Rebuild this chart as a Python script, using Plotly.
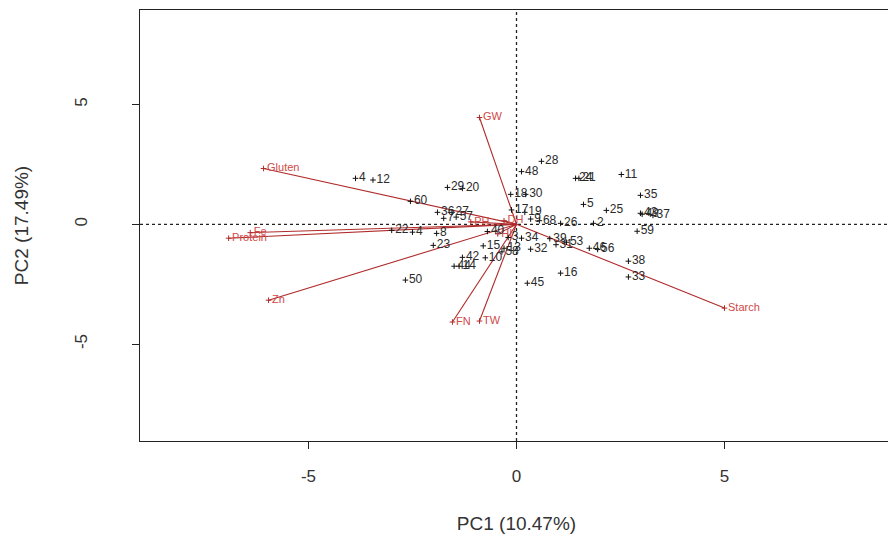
import plotly.graph_objects as go

# Genotype scores (PC1, PC2)
geno_labels = ["28", "48", "24", "21", "11", "35", "5", "25", "43", "49", "37", "59",
               "26", "2", "38", "33", "16", "45", "18", "30", "17", "19", "9", "68",
               "34", "32", "39", "31", "53", "46", "56", "3", "13", "58",
               "42", "44", "14", "50", "15", "4", "8", "23", "22", "4", "12",
               "29", "20", "60", "36", "27", "7", "57", "40", "10"]
geno_pc1 = [0.60, 0.12, 1.42, 1.50, 2.52, 2.98, 1.61, 2.16, 2.98, 3.02, 3.28, 2.90,
            1.06, 1.85, 2.69, 2.69, 1.06, 0.26, -0.14, 0.22, -0.12, 0.20, 0.34, 0.55,
            0.12, 0.34, 0.80, 0.95, 1.20, 1.75, 1.95, -0.20, -0.30, -0.35,
            -1.30, -1.50, -1.38, -2.67, -0.80, -2.50, -1.92, -2.00, -3.00, -3.87, -3.45,
            -1.66, -1.30, -2.55, -1.90, -1.55, -1.75, -1.45, -0.70, -0.75]
geno_pc2 = [2.63, 2.20, 1.92, 1.92, 2.08, 1.21, 0.83, 0.58, 0.46, 0.42, 0.37, -0.29,
            0.04, 0.04, -1.54, -2.20, -2.04, -2.46, 1.25, 1.25, 0.60, 0.50, 0.22, 0.15,
            -0.58, -1.04, -0.60, -0.85, -0.75, -1.00, -1.05, -0.55, -1.00, -1.15,
            -1.38, -1.75, -1.75, -2.33, -0.90, -0.33, -0.38, -0.88, -0.25, 1.92, 1.85,
            1.54, 1.50, 0.96, 0.50, 0.50, 0.25, 0.30, -0.30, -1.40]

# Trait loadings (arrow tips)
trait_labels = ["GW", "Gluten", "Protein", "Fe", "Zn", "FN", "TW", "Starch", "PH", "DH", "HI"]
trait_pc1 = [-0.89, -6.08, -6.92, -6.40, -5.96, -1.54, -0.89, 5.00, -1.10, -0.30, -0.45]
trait_pc2 = [4.46, 2.33, -0.58, -0.35, -3.17, -4.08, -4.04, -3.50, 0.10, 0.15, -0.40]

x_ticks = [-5, 0, 5]
y_ticks = [-5, 0, 5]

ARROW = "#b02a2a"
ARROW_TXT = "#d04848"
TXT = "#2a2a2a"
FONT = "Liberation Sans, Arial, sans-serif"

fig = go.Figure()

for lab, x, y in zip(trait_labels, trait_pc1, trait_pc2):
    fig.add_trace(go.Scatter(
        x=[0, x], y=[0, y], mode="lines",
        line=dict(color=ARROW, width=1.1),
        hoverinfo="skip", showlegend=False))

fig.add_trace(go.Scatter(
    x=trait_pc1, y=trait_pc2, mode="markers+text",
    text=trait_labels, textposition="middle right",
    marker=dict(symbol="cross-thin", size=4, line=dict(color=ARROW, width=1)),
    textfont=dict(family=FONT, size=11, color=ARROW_TXT),
    showlegend=False))

fig.add_trace(go.Scatter(
    x=geno_pc1, y=geno_pc2, mode="markers+text",
    text=geno_labels, textposition="middle right",
    marker=dict(symbol="cross-thin", size=4, line=dict(color="#111111", width=1)),
    textfont=dict(family=FONT, size=12, color=TXT),
    showlegend=False))

fig.add_shape(type="line", x0=0, x1=0, y0=-9.05, y1=8.95, xref="x", yref="y",
              line=dict(color="#222222", width=1.3, dash="dot"), layer="below")
fig.add_shape(type="line", x0=-9.05, x1=9.05, y0=0, y1=0, xref="x", yref="y",
              line=dict(color="#222222", width=1.3, dash="dot"), layer="below")

axis_common = dict(
    showgrid=False, zeroline=False, showline=True, mirror=True, automargin=False,
    linecolor="#222222", linewidth=1.2,
    ticks="outside", ticklen=7, tickwidth=1, tickcolor="#222222",
    tickfont=dict(family=FONT, size=17, color="#333333"),
)

# The page body adds an 8px offset, so the figure is sized to fit the window
fig.update_layout(
    width=888, height=531,
    margin=dict(l=132, r=3, t=2, b=98),
    paper_bgcolor="white", plot_bgcolor="white",
    xaxis=dict(range=[-9.05, 9.05], tickvals=x_ticks, ticktext=[str(v) for v in x_ticks],
               ticklabelstandoff=12,
               title=dict(text="PC1 (10.47%)", standoff=32,
                          font=dict(family=FONT, size=19, color="#333333")),
               **axis_common),
    yaxis=dict(range=[-9.05, 8.95], tickvals=y_ticks, ticktext=[str(v) for v in y_ticks],
               tickangle=-90, ticklabelstandoff=38,
               title=dict(text="PC2 (17.49%)", standoff=38,
                          font=dict(family=FONT, size=19, color="#333333")),
               **axis_common),
)

fig.write_html("out.html")
